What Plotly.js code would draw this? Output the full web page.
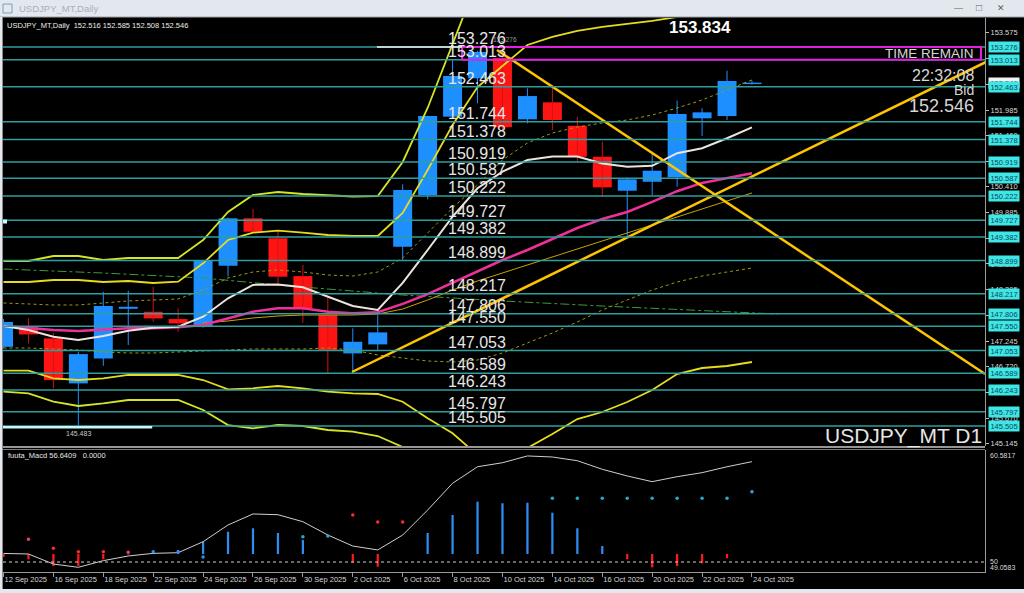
<!DOCTYPE html>
<html><head><meta charset="utf-8">
<script src="https://cdn.plot.ly/plotly-3.0.1.min.js"></script>
<style>html,body{margin:0;padding:0;background:#000;overflow:hidden}#c{width:1024px;height:593px}</style>
</head><body><div id="c"></div>
<script>
// ---------- data ----------
const BAR_DATES = ['2025-09-12','2025-09-15','2025-09-16','2025-09-17','2025-09-18','2025-09-19','2025-09-22','2025-09-23','2025-09-24','2025-09-25','2025-09-26','2025-09-29','2025-09-30','2025-10-01','2025-10-02','2025-10-03','2025-10-06','2025-10-07','2025-10-08','2025-10-09','2025-10-10','2025-10-13','2025-10-14','2025-10-15','2025-10-16','2025-10-17','2025-10-20','2025-10-21','2025-10-22','2025-10-23','2025-10-24'];
const TICK_DATES = ['2025-09-12','2025-09-16','2025-09-18','2025-09-22','2025-09-24','2025-09-26','2025-09-30','2025-10-02','2025-10-06','2025-10-08','2025-10-10','2025-10-14','2025-10-16','2025-10-20','2025-10-22','2025-10-24'];
const TICK_LABELS = ['12 Sep 2025','16 Sep 2025','18 Sep 2025','22 Sep 2025','24 Sep 2025','26 Sep 2025','30 Sep 2025','2 Oct 2025','6 Oct 2025','8 Oct 2025','10 Oct 2025','14 Oct 2025','16 Oct 2025','20 Oct 2025','22 Oct 2025','24 Oct 2025'];

const OPEN  = [147.13,147.555,147.303,146.380,146.893,147.910,147.849,147.699,147.541,148.792,149.765,149.355,148.580,147.781,146.995,147.180,149.183,150.243,151.848,152.635,153.05,151.794,152.142,151.662,151.027,150.330,150.514,150.604,151.814,151.861,152.516];
const HIGH  = [147.70,147.713,147.412,147.028,148.259,148.279,148.361,147.918,148.90,149.78,149.955,149.49,148.808,148.156,147.508,147.781,150.462,151.87,153.01,153.20,153.276,152.429,152.497,151.847,151.334,150.60,151.129,152.175,152.019,152.790,152.585];
const LOW   = [147.10,147.201,146.278,145.483,146.741,147.166,147.643,147.438,147.52,148.57,149.47,148.432,147.623,146.585,146.598,147.043,148.91,150.154,151.82,152.122,151.58,151.712,151.574,150.924,150.207,149.386,150.241,150.412,151.451,151.779,152.508];
const CLOSE = [147.64,147.385,146.448,146.981,147.965,147.951,147.712,147.610,148.888,149.764,149.49,148.568,147.918,147.049,147.233,147.426,150.345,151.862,152.682,153.174,151.629,152.271,151.779,151.027,150.399,150.563,150.740,151.902,151.937,152.579,152.546];

const MA_WHITE   = [147.557,147.475,147.337,147.27,147.352,147.46,147.522,147.542,147.747,148.125,148.40,148.41,148.35,148.16,147.967,147.885,148.44,149.115,149.80,150.38,150.72,150.96,151.03,151.03,150.89,150.82,150.84,151.10,151.20,151.405,151.63];
const MA_MAGENTA = [147.557,147.51,147.475,147.455,147.49,147.51,147.51,147.53,147.578,147.715,147.85,147.92,147.92,147.85,147.817,147.84,148.01,148.21,148.44,148.68,148.91,149.115,149.34,149.566,149.75,149.894,150.10,150.32,150.49,150.59,150.69];
const BB_UP3 = [148.89,148.89,148.992,148.992,148.91,148.951,148.951,148.951,149.32,149.894,150.243,150.304,150.263,150.243,150.212,150.222,150.919,152.026,153.318,154.65];
const BB_UP2 = [148.459,148.459,148.50,148.50,148.459,148.48,148.439,148.465,148.842,149.32,149.47,149.511,149.47,149.423,149.402,149.402,149.874,150.755,151.678,152.457,152.887,153.318,153.482,153.605,153.687,153.748,153.81,153.892,153.974,154.056,154.22];
const BB_UP1 = [148.029,148.008,147.988,147.988,148.029,148.07,148.09,148.111,148.295,148.541,148.664,148.705,148.664,148.602,148.582,148.664,148.951,149.464,149.976,150.448,150.96,151.309,151.514,151.637,151.719,151.78,151.883,152.026,152.19,152.395,152.60];
const BB_DN1 = [147.106,147.106,147.086,147.065,147.024,147.004,147.004,147.024,147.045,147.065,147.086,147.086,147.086,147.106,147.065,146.963,146.901,146.84,146.819,146.86,147.004,147.209,147.414,147.639,147.885,148.09,148.295,148.459,148.582,148.664,148.746];
const BB_DN2 = [146.641,146.641,146.485,146.45,146.485,146.553,146.553,146.553,146.45,146.259,146.28,146.327,146.28,146.21,146.177,146.163,146.005,145.665,145.357,144.913,144.769,145.056,145.343,145.65,145.794,145.999,146.245,146.573,146.696,146.737,146.819];
const BB_DN3 = [146.21,146.177,146.005,145.917,145.972,146.04,146.04,146.04,145.835,145.527,145.46,145.527,145.507,145.425,145.39,145.302,145.076,144.605];
const GREEN_X = [0,4,8,11,16,20,24,28,31];
const GREEN_Y = [148.725,148.643,148.541,148.397,148.192,148.07,147.967,147.865,147.803];
const GOLD_X = [8,9,10,11,12,13,14,15,16,17,18,19,20,21,22,23,24,25,26,27,28,29,30];
const GOLD_Y = [147.619,147.66,147.721,147.762,147.782,147.782,147.782,147.803,147.905,148.09,148.295,148.48,148.643,148.807,148.971,149.135,149.30,149.464,149.627,149.791,149.955,150.12,150.284];

const TREND_DOWN_X = [19.78, 39.34], TREND_DOWN_Y = [153.215, 146.573];
const TREND_UP_X = [13.97, 39.38],   TREND_UP_Y = [146.614, 152.969];

const LEVELS = [153.276,153.013,152.463,151.744,151.378,150.919,150.587,150.222,149.727,149.382,148.899,148.217,147.806,147.550,147.053,146.589,146.243,145.797,145.505];
const GRID = [145.145,145.670,146.195,146.720,147.245,147.775,148.305,148.830,149.355,149.885,150.410,150.935,151.460,151.985,152.515,153.045,153.575];
const BOX_TOP = 153.276, BOX_BOTTOM = 153.013, BOX_X = [18.38, 39.18];
const HIGH_LINE_X = [14.97, 18.38], HIGH_LINE_Y = 153.276;
const LOW_LINE_X = [-0.3, 5.96], LOW_LINE_Y = 145.483;
const BID = 152.546, TOP_PRICE = '153.834';

const MACD_LINE = [50.81,50.76,49.81,49.50,50.13,50.57,50.82,50.88,51.92,53.50,54.54,54.47,53.81,52.55,51.51,51.14,52.55,54.91,57.44,59.00,59.38,60.02,59.92,59.57,58.76,58.13,57.59,58.06,58.44,59.00,59.48];
const HIST = [50.47,50.26,49.62,49.62,50.26,50.70,50.95,51.14,51.92,52.86,53.19,52.74,52.08,50.76,49.94,49.56,50.76,52.74,54.44,55.70,55.55,55.60,54.66,53.19,51.51,50.26,49.50,49.62,49.88,50.35,50.76];
const HIST_BASE = 50.76;
const DOTS = [null,52.15,51.30,50.98,50.98,50.92,50.98,50.98,50.47,null,null,null,52.39,52.46,54.44,53.78,53.78,null,null,null,null,null,56.02,56.02,56.02,56.02,56.02,56.02,56.02,56.02,56.64];
const DOT_KIND = ['', 'm','r','r','r','m','b','b','b','','','','c','c','r','r','r','','','','','','c','c','c','c','c','c','c','c','c'];
const MACD_MAX = 60.5817, MACD_MIN = 49.0583, MACD_LEVEL = 50;

// ---------- helpers (positions only) ----------
const W = 1024, H = 593;
const PX = x => x / W, PY = y => 1 - y / H;
const IDX = BAR_DATES.map((d, i) => i);
const TICK_POS = TICK_DATES.map(d => BAR_DATES.indexOf(d));
const BULL = '#1e8fff', BEAR = '#ff1414';

const traces = [];
traces.push({type:'bar', x:IDX, base:OPEN.map((o,i)=>Math.min(o,CLOSE[i])),
  y:OPEN.map((o,i)=>Math.abs(CLOSE[i]-o)), width:0.76,
  marker:{color:OPEN.map((o,i)=>CLOSE[i]>=o?BULL:BEAR), line:{width:0}}, xaxis:'x', yaxis:'y', hoverinfo:'skip'});
function wick(bull){const xs=[],ys=[];IDX.forEach(i=>{if((CLOSE[i]>=OPEN[i])===bull){xs.push(i,i,null);ys.push(LOW[i],HIGH[i],null);}});return {type:'scatter',mode:'lines',x:xs,y:ys,line:{color:bull?BULL:'#d81010',width:1},xaxis:'x',yaxis:'y',hoverinfo:'skip'};}
traces.push(wick(true), wick(false));
const line = (x,y,color,width,dash) => ({type:'scatter',mode:'lines',x,y,line:{color,width,dash:dash||'solid'},xaxis:'x',yaxis:'y',hoverinfo:'skip',connectgaps:false});
traces.push(line(GREEN_X, GREEN_Y, '#3f9a3a', 1, 'dashdot'));
traces.push(line(IDX, BB_UP1, '#9c9a10', 1, 'dot'));
traces.push(line(IDX, BB_DN1, '#9c9a10', 1, 'dot'));
traces.push(line(IDX.slice(0,BB_UP3.length), BB_UP3, '#d6e426', 1.8));
traces.push(line(IDX, BB_UP2, '#e6dc1e', 1.8));
traces.push(line(IDX, BB_DN2, '#e6dc1e', 1.8));
traces.push(line(IDX.slice(0,BB_DN3.length), BB_DN3, '#d6e426', 1.8));
traces.push(line(GOLD_X, GOLD_Y, '#c9a200', 1));
traces.push(line(IDX, MA_MAGENTA, '#f0309a', 2.5));
traces.push(line(IDX, MA_WHITE, '#ece4dc', 2));
traces.push(line(TREND_DOWN_X, TREND_DOWN_Y, '#ffc400', 2.5));
traces.push(line(TREND_UP_X, TREND_UP_Y, '#ffc400', 2.5));
traces.push({type:'bar', x:IDX, base:HIST_BASE, y:HIST.map(v=>v-HIST_BASE), width:0.09,
  marker:{color:HIST.map(v=>v>=HIST_BASE?'#2f8cf0':'#ff1a1a'), line:{width:0}}, xaxis:'x', yaxis:'y2', hoverinfo:'skip'});
traces.push({type:'scatter', mode:'lines', x:IDX, y:MACD_LINE, line:{color:'#cfcfcf', width:1}, xaxis:'x', yaxis:'y2', hoverinfo:'skip'});
const DOT_COL = {m:'#e0407a', r:'#ff2a2a', b:'#2f8cf0', c:'#2aa8c8', '':'#000'};
traces.push({type:'scatter', mode:'markers', x:IDX, y:DOTS, marker:{size:3.5, color:DOT_KIND.map(k=>DOT_COL[k])}, xaxis:'x', yaxis:'y2', hoverinfo:'skip'});

const shapes = [];
LEVELS.forEach(L => shapes.push({type:'line', xref:'paper', yref:'y', x0:PX(3), x1:PX(985), y0:L, y1:L, line:{color:'#2e9e9e', width:1.5}, layer:'above'}));
shapes.push({type:'rect', xref:'x', yref:'y', x0:BOX_X[0], x1:BOX_X[1], y0:BOX_BOTTOM, y1:BOX_TOP, line:{color:'#e020e0', width:2}, layer:'above'});
shapes.push({type:'line', xref:'x', yref:'y', x0:HIGH_LINE_X[0], x1:HIGH_LINE_X[1], y0:HIGH_LINE_Y, y1:HIGH_LINE_Y, line:{color:'#f4f4f4', width:1.5}, layer:'above'});
shapes.push({type:'line', xref:'x', yref:'y', x0:LOW_LINE_X[0], x1:LOW_LINE_X[1], y0:LOW_LINE_Y, y1:LOW_LINE_Y, line:{color:'#c8f6f6', width:2.5}, layer:'above'});
shapes.push({type:'line', xref:'paper', yref:'y2', x0:PX(3), x1:PX(985), y0:MACD_LEVEL, y1:MACD_LEVEL, line:{color:'#d0d0d0', width:1, dash:'dot'}, layer:'above'});
shapes.push({type:'rect', xref:'paper', yref:'paper', x0:0, x1:1, y0:PY(17), y1:1, fillcolor:'#e3e8ee', line:{width:0}, layer:'above'});
shapes.push({type:'line', xref:'paper', yref:'paper', x0:0, x1:1, y0:PY(17), y1:PY(17), line:{color:'#9aa0a6', width:1}, layer:'above'});
shapes.push({type:'rect', xref:'paper', yref:'paper', x0:0, x1:1, y0:0, y1:PY(589), fillcolor:'#e3e8ee', line:{width:0}, layer:'above'});
shapes.push({type:'rect', xref:'paper', yref:'paper', x0:0, x1:PX(2), y0:PY(589), y1:PY(17), fillcolor:'#e3e8ee', line:{width:0}, layer:'above'});
shapes.push({type:'line', xref:'paper', yref:'paper', x0:PX(2.5), x1:PX(2.5), y0:PY(589), y1:PY(17), line:{color:'#8a8a8a', width:1}, layer:'above'});
shapes.push({type:'line', xref:'paper', yref:'paper', x0:PX(3), x1:PX(985), y0:PY(447), y1:PY(447), line:{color:'#c8c8c8', width:1.5}, layer:'above'});
shapes.push({type:'line', xref:'paper', yref:'paper', x0:PX(3), x1:PX(985), y0:PY(449.5), y1:PY(449.5), line:{color:'#7a7a7a', width:1}, layer:'above'});
shapes.push({type:'rect', xref:'paper', yref:'paper', x0:PX(3), x1:PX(7), y0:PY(223.5), y1:PY(219.5), fillcolor:'#bfffff', line:{width:0}, layer:'above'});
shapes.push({type:'rect', xref:'paper', yref:'paper', x0:PX(3), x1:PX(12), y0:PY(13), y1:PY(4), fillcolor:'rgba(0,0,0,0)', line:{color:'#7d9cbc', width:1}, layer:'above'});

const ann = [];
const T = (x,y,text,size,color,xa,ya,extra) => Object.assign({xref:'paper',yref:'paper',x:PX(x),y:PY(y),text,showarrow:false,xanchor:xa||'left',yanchor:ya||'middle',font:{size,color,family:'Liberation Sans, Arial, sans-serif'}},extra||{});
ann.push(T(17, 8.5, 'USDJPY_MT,Daily', 9.5, '#a9afb6'));
ann.push(T(958, 8, '&#8212;', 9, '#606060', 'center'));
ann.push(T(979, 8, '&#9633;', 10, '#606060', 'center'));
ann.push(T(1001, 8, '&#10005;', 9, '#606060', 'center'));
ann.push(T(5, 25, 'USDJPY_MT,Daily  152.516 152.585 152.508 152.546', 7.5, '#ececec'));
ann.push(T(6, 455, 'fuuta_Macd 56.6409   0.0000', 7.5, '#e6e6e6'));
LEVELS.forEach(L => ann.push({xref:'paper', yref:'y', x:PX(446), y:L, text:L.toFixed(3), showarrow:false, xanchor:'left', yanchor:'bottom', yshift:-2, font:{size:16, color:'#e6e6e6', family:'Liberation Sans, Arial, sans-serif'}}));
ann.push({xref:'paper', yref:'y', x:PX(988), y:BID, text:BID.toFixed(3), showarrow:false, xanchor:'left', yanchor:'middle', bgcolor:'#f2f2f2', width:28, height:8, borderpad:1, font:{size:7.5, color:'#000', family:'Liberation Sans, Arial, sans-serif'}});
LEVELS.forEach(L => ann.push({xref:'paper', yref:'y', x:PX(988), y:L, text:L.toFixed(3), showarrow:false, xanchor:'left', yanchor:'middle', bgcolor:'#3ee6e6', width:28, height:8, borderpad:1, font:{size:7.5, color:'#0b4658', family:'Liberation Sans, Arial, sans-serif'}}));
ann.push(T(976, 54, 'TIME REMAIN', 13.5, '#d6d6d6', 'right'));
ann.push(T(976, 75, '22:32:08', 16, '#d6d6d6', 'right'));
ann.push(T(976, 90, 'Bid', 14, '#d6d6d6', 'right'));
ann.push(T(976, 106, BID.toFixed(3), 18, '#d6d6d6', 'right'));
ann.push(T(700, 28, '<b>'+TOP_PRICE+'</b>', 17, '#ffffff', 'center'));
ann.push(T(984, 436, 'USDJPY_MT D1', 21, '#e6e6e6', 'right'));
ann.push({xref:'x', yref:'y', x:3, y:LOW_LINE_Y, text:LOW_LINE_Y.toFixed(3), showarrow:false, xanchor:'center', yanchor:'top', yshift:-1, font:{size:7, color:'#c8c8c8', family:'Liberation Sans, Arial, sans-serif'}});
ann.push({xref:'x', yref:'y', x:20.1, y:HIGH_LINE_Y, text:HIGH_LINE_Y.toFixed(3), showarrow:false, xanchor:'center', yanchor:'bottom', yshift:2, font:{size:6.5, color:'#9a9a9a', family:'Liberation Sans, Arial, sans-serif'}});
ann.push(T(988, 455, MACD_MAX.toFixed(4), 7, '#d8d8d8'));
ann.push(T(988, 561, String(MACD_LEVEL), 7, '#d8d8d8'));
ann.push(T(988, 567.5, MACD_MIN.toFixed(4), 7, '#d8d8d8'));

const layout = {
  width:W, height:H, margin:{l:0,r:0,t:0,b:0}, paper_bgcolor:'#000', plot_bgcolor:'#000',
  showlegend:false, barmode:'overlay',
  font:{family:'Liberation Sans, Arial, sans-serif', color:'#d0d0d0', size:8},
  xaxis:{domain:[PX(3),PX(985)], range:[-0.02,39.34], anchor:'y2', tickmode:'array', tickvals:TICK_POS, ticktext:TICK_LABELS,
    ticks:'outside', ticklen:4, tickcolor:'#9a9a9a', tickfont:{size:7.5,color:'#d6d6d6'}, ticklabelposition:'outside right',
    tickangle:0, automargin:false,
    showgrid:false, zeroline:false, showline:true, linecolor:'#9a9a9a', linewidth:1, fixedrange:true},
  yaxis:{domain:[PY(446),PY(18)], range:[145.097,153.871], side:'right', anchor:'x', tickmode:'array', tickvals:GRID,
    ticktext:GRID.map(v=>v.toFixed(3)), ticks:'outside', ticklen:3, tickcolor:'#bbbbbb', tickfont:{size:7.5,color:'#dadada'},
    showgrid:false, zeroline:false, showline:true, linecolor:'#9a9a9a', linewidth:1},
  yaxis2:{domain:[PY(572),PY(450)], range:[MACD_MIN,MACD_MAX], side:'right', anchor:'x', showticklabels:false, ticks:'',
    showgrid:false, zeroline:false, showline:true, linecolor:'#9a9a9a', linewidth:1},
  shapes, annotations:ann
};
Plotly.newPlot('c', traces, layout, {staticPlot:true, displayModeBar:false});
</script>
</body></html>
